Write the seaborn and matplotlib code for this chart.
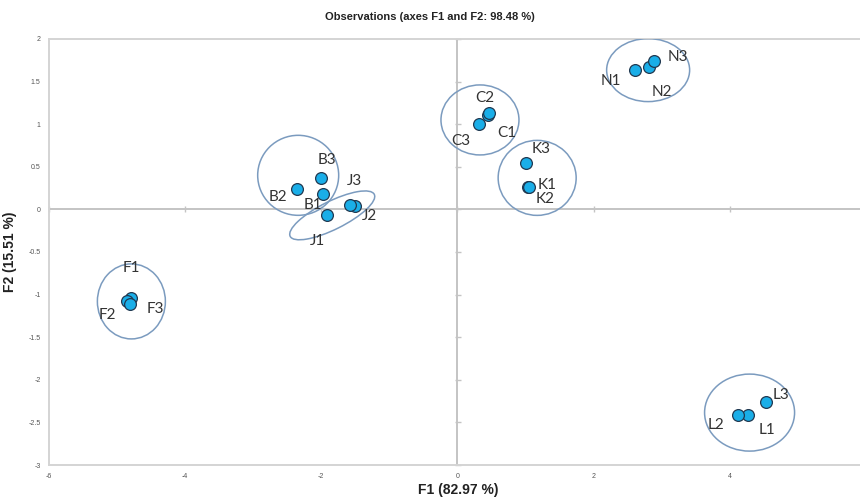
import matplotlib
matplotlib.use("Agg")
import matplotlib.pyplot as plt
from matplotlib.patches import Ellipse
from matplotlib.transforms import Affine2D
import seaborn as sns
import pandas as pd

# ---- data ----
labels = ["F1", "F2", "F3", "B1", "B2", "B3", "J1", "J2", "J3",
          "C1", "C2", "C3", "K1", "K2", "K3", "N1", "N2", "N3",
          "L1", "L2", "L3"]
f1 = [-4.79, -4.85, -4.81, -1.97, -2.36, -2.01, -1.92, -1.51, -1.58,
      0.45, 0.47, 0.32, 1.04, 1.05, 1.01, 2.61, 2.81, 2.89,
      4.26, 4.12, 4.53]
f2 = [-1.04, -1.08, -1.11, 0.18, 0.24, 0.37, -0.06, 0.035, 0.05,
      1.11, 1.13, 1.00, 0.26, 0.26, 0.54, 1.64, 1.67, 1.74,
      -2.415, -2.415, -2.255]
# label offsets (pixels)
lab_dx = [0, -20, 25, -10, -19, 6, -9, 15, 5,
          19, -5, -18, 19, 16, 15, -24, 13, 24,
          19, -22, 15]
lab_dy = [30, -14, -5, -11, -8, 18, -26, -10, 24,
          -18, 15, -17, 2, -12, 14, -11, -25, 4,
          -15, -10, 7]

# group ellipses: centre (data), diameters (pixels), angle (deg)
ell_cx = [-4.79, -2.34, -1.84, 0.33, 1.17, 2.80, 4.29]
ell_cy = [-1.08, 0.40, -0.07, 1.05, 0.37, 1.635, -2.385]
ell_w = [68, 81, 94, 78, 78, 83, 90]
ell_h = [75, 80, 28, 70, 75, 63, 77]
ell_a = [0, 0, 26.5, 0, 0, 0, 0]

xticks = [-6, -4, -2, 0, 2, 4]
yticks = [-3, -2.5, -2, -1.5, -1, -0.5, 0, 0.5, 1, 1.5, 2]

df = pd.DataFrame({"F1": f1, "F2": f2, "label": labels})

sns.set_theme(style="white")
plt.rcParams['font.family'] = ['Liberation Sans', 'DejaVu Sans']

W, H = 860, 498
fig = plt.figure(figsize=(W / 100, H / 100), dpi=100)
ax_l, ax_b = 49 / W, (H - 465) / H
ax_w, ax_h = 817 / W, 426 / H
ax = fig.add_axes([ax_l, ax_b, ax_w, ax_h])
xmin, xmax, ymin, ymax = -6, 6, -3, 2
ax.set_xlim(xmin, xmax)
ax.set_ylim(ymin, ymax)

# zero lines
ax.axhline(0, color="#c4c4c4", lw=1.4, zorder=1)
ax.axvline(0, color="#c4c4c4", lw=1.4, zorder=1)

sns.scatterplot(data=df, x="F1", y="F2", ax=ax, s=72, color="#1aaee8",
                edgecolor="#203850", linewidth=0.9, zorder=4, legend=False)

for lab, x, y, dx, dy in zip(labels, f1, f2, lab_dx, lab_dy):
    ax.annotate(lab, (x, y), xytext=(dx, dy), textcoords="offset pixels",
                ha="center", va="center", fontsize=11, color="#333333",
                family=["Lato", "DejaVu Sans"], zorder=5)

sx = 817 / (xmax - xmin)
sy = 426 / (ymax - ymin)
for cx, cy, w, h, a in zip(ell_cx, ell_cy, ell_w, ell_h, ell_a):
    e = Ellipse((0, 0), w, h, angle=a, fill=False, edgecolor="#7b9bbf",
                lw=1.1, zorder=3)
    e.set_transform(Affine2D().scale(1 / sx, 1 / sy).translate(cx, cy) + ax.transData)
    ax.add_patch(e)

ax.set_xticks(xticks)
ax.set_yticks(yticks)
ax.set_xticklabels([f"{t:g}" for t in xticks])
ax.set_yticklabels([f"{t:g}" for t in yticks])
ax.tick_params(axis="both", labelsize=5, colors="#555555", length=0, pad=6)
for sp in ["left", "top", "bottom"]:
    ax.spines[sp].set_color("#d4d4d4")
    ax.spines[sp].set_linewidth(1.4)
ax.spines["right"].set_visible(False)

# tick marks on the zero axes
sec_y = ax.secondary_yaxis((0 - xmin) / (xmax - xmin))
sec_y.set_yticks(yticks)
sec_y.set_yticklabels([])
sec_y.tick_params(axis="y", direction="inout", length=4, color="#c4c4c4", width=1)
sec_y.spines["left"].set_visible(False)
sec_y.spines["right"].set_visible(False)
sec_x = ax.secondary_xaxis((0 - ymin) / (ymax - ymin))
sec_x.set_xticks(xticks)
sec_x.set_xticklabels([])
sec_x.tick_params(axis="x", direction="inout", length=4, color="#c4c4c4", width=1)
sec_x.spines["bottom"].set_visible(False)
sec_x.spines["top"].set_visible(False)

ax.set_xlabel("F1 (82.97 %)", fontsize=10, fontweight="bold", color="#222222")
ax.set_ylabel("F2 (15.51 %)", fontsize=10, fontweight="bold", color="#222222")
ax.xaxis.set_label_coords((458 - 49) / 817, -18 / 426)
ax.yaxis.set_label_coords(-32 / 817, 0.5)
fig.text(0.5, 1 - 17 / H, "Observations (axes F1 and F2: 98.48 %)", ha="center",
         va="center", fontsize=8, fontweight="bold", color="#222222")

fig.savefig("out.png", dpi=100)
